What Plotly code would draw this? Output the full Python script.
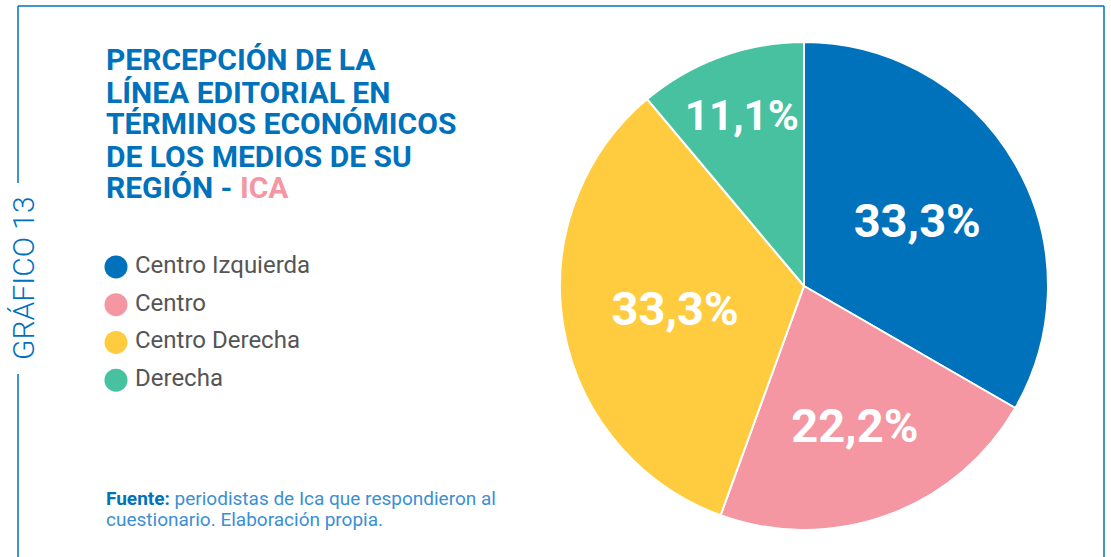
import plotly.graph_objects as go

categorias = ['Centro Izquierda', 'Centro', 'Centro Derecha', 'Derecha']
respuestas = [3, 2, 3, 1]
colores = ['#0072BC', '#F497A3', '#FFCC40', '#48C1A0']

titulo = ['PERCEPCIÓN DE LA', 'LÍNEA EDITORIAL EN', 'TÉRMINOS ECONÓMICOS',
          'DE LOS MEDIOS DE SU', 'REGIÓN - ']
region = 'ICA'
etiqueta_grafico = 'GRÁFICO 13'
fuente = ['periodistas de Ica que respondieron al', 'cuestionario. Elaboración propia.']

AZUL = '#0072BC'
AZUL_CLARO = '#3B8FD3'
W, H = 1111, 557

fig = go.Figure()

fig.add_trace(go.Pie(
    labels=categorias, values=respuestas, sort=False, direction='clockwise',
    rotation=0, marker=dict(colors=colores, line=dict(color='white', width=2)),
    texttemplate='%{percent:.1%}', textposition='inside',
    insidetextorientation='horizontal',
    textfont=dict(family='Roboto', size=47, color='white', weight='bold'),
    domain=dict(x=[560 / W, 1048 / W], y=[1 - 530 / H, 1 - 42 / H]),
    showlegend=False, hoverinfo='label+percent'))

# legend: round dots + labels on a hidden axis
filas = list(range(len(categorias)))[::-1]
fig.add_trace(go.Scatter(
    x=[0] * len(categorias), y=filas, mode='markers',
    marker=dict(size=23, color=colores),
    cliponaxis=False, showlegend=False, hoverinfo='skip'))
fig.add_trace(go.Scatter(
    x=[19] * len(categorias), y=filas, mode='text', text=categorias,
    textposition='middle right',
    textfont=dict(family='Roboto', size=24, color='#555555'),
    cliponaxis=False, showlegend=False, hoverinfo='skip'))

fig.update_xaxes(domain=[116 / W, 400 / W], range=[0, 284], visible=False, fixedrange=True)
fig.update_yaxes(domain=[1 - 399 / H, 1 - 248 / H], range=[-0.5, 3.5],
                 visible=False, fixedrange=True)

anotaciones = []
for i, linea in enumerate(titulo):
    texto = linea
    if i == len(titulo) - 1:
        texto += f'<span style="color:#F497A3">{region}</span>'
    anotaciones.append(dict(
        text=texto, x=104 / W, y=1 - (60 + 32 * i) / H, xref='paper', yref='paper',
        xanchor='left', yanchor='middle', align='left', showarrow=False,
        font=dict(family='Roboto', size=30, color=AZUL, weight='bold')))

anotaciones.append(dict(
    text=etiqueta_grafico, x=23 / W, y=1 - 278 / H, xref='paper', yref='paper',
    textangle=-90, showarrow=False, xanchor='center', yanchor='middle',
    font=dict(family='Roboto', size=30, color=AZUL, weight=300)))

for i, linea in enumerate(fuente):
    texto = f'<span style="color:{AZUL_CLARO}">{linea}</span>'
    if i == 0:
        texto = '<b>Fuente:</b> ' + texto
    anotaciones.append(dict(
        text=texto, x=104 / W, y=1 - (498 + 21 * i) / H, xref='paper', yref='paper',
        xanchor='left', yanchor='middle', align='left', showarrow=False,
        font=dict(family='Roboto', size=19, color=AZUL)))

borde = dict(color=AZUL, width=1.5)
fig.update_layout(
    width=W, height=H, margin=dict(l=0, r=0, t=0, b=0),
    paper_bgcolor='white', plot_bgcolor='white',
    separators=',.',
    annotations=anotaciones,
    shapes=[
        dict(type='line', xref='paper', yref='paper', x0=18 / W, x1=1104 / W,
             y0=1 - 6 / H, y1=1 - 6 / H, line=borde),
        dict(type='line', xref='paper', yref='paper', x0=1104 / W, x1=1104 / W,
             y0=1 - 6 / H, y1=0, line=borde),
        dict(type='line', xref='paper', yref='paper', x0=18 / W, x1=18 / W,
             y0=1 - 6 / H, y1=1 - 183 / H, line=borde),
        dict(type='line', xref='paper', yref='paper', x0=18 / W, x1=18 / W,
             y0=1 - 374 / H, y1=0, line=borde),
    ],
)

fig.write_html('out.html', config={'displayModeBar': False},
               post_script="document.body.style.margin='0';")
